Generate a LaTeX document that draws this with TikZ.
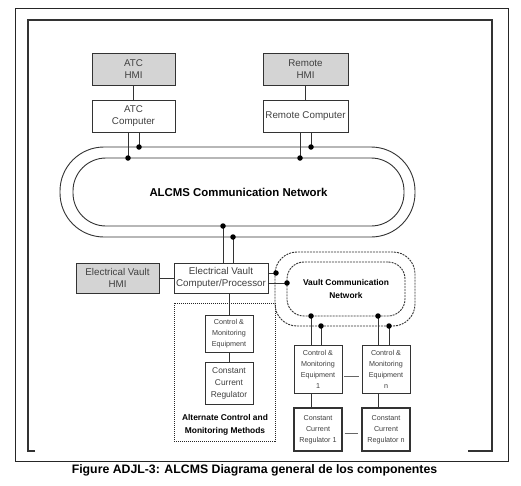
\documentclass[tikz,border=0pt]{standalone}
\usepackage{fontspec}
\setmainfont{Liberation Sans}
\begin{document}
\begin{tikzpicture}[x=1pt,y=-1pt,
  box/.style={draw=black!80,line width=0.9pt,inner sep=0pt,align=center,text=black!75},
  hmi/.style={box,fill=black!17},
  wire/.style={draw=black!80,line width=0.8pt},
  dot/.style={circle,fill=black,inner sep=0pt,minimum size=5.5pt},
  fA/.style={font=\fontsize{9.8}{12.5}\selectfont},
  fS/.style={font=\fontsize{7.2}{11}\selectfont},
  fM/.style={font=\fontsize{8.4}{12}\selectfont},
  fB/.style={font=\fontsize{8.4}{13.5}\selectfont\bfseries,text=black}]
\useasboundingbox (0,0) rectangle (521,485);
\fill[white] (0,0) rectangle (521,485);
% frames
\draw[black!85,line width=1pt] (15,8) rectangle (508,461.5);
\draw[black!80,line width=1.2pt] (35,451) -- (28,451) -- (28,20) -- (492,20) -- (492,451) -- (468,451);
% top boxes
\node[hmi,fA,minimum width=83pt,minimum height=32pt] (atchmi) at (133.5,69) {ATC\\HMI};
\node[box,fA,minimum width=83pt,minimum height=32pt] (atcc) at (133.5,116) {ATC\\Computer};
\node[hmi,fA,minimum width=85pt,minimum height=32pt] (remhmi) at (305.5,69) {Remote\\HMI};
\node[box,fA,minimum width=85pt,minimum height=32pt] (remc) at (305.5,116) {Remote Computer};
\draw[wire] (atchmi) -- (atcc);
\draw[wire] (remhmi) -- (remc);
% ALCMS network
\node[draw=black!80,line width=0.9pt,rounded corners=44pt,minimum width=355pt,minimum height=90pt] (netout) at (237.5,192) {};
\node[draw=black!80,line width=0.9pt,rounded corners=33pt,minimum width=331pt,minimum height=68pt,font=\fontsize{11.4}{13}\selectfont\bfseries] (netin) at (238.5,192) {ALCMS Communication Network};
\coordinate (a1) at (128,158);
\coordinate (a2) at (139,147);
\coordinate (r1) at (300,158);
\coordinate (r2) at (311,147);
\coordinate (e1) at (223,226);
\coordinate (e2) at (233,237);
\draw[wire] (atcc.south -| a1) -- (a1);
\draw[wire] (atcc.south -| a2) -- (a2);
\draw[wire] (remc.south -| r1) -- (r1);
\draw[wire] (remc.south -| r2) -- (r2);
% electrical vault
\node[hmi,fA,minimum width=83pt,minimum height=30pt] (evhmi) at (117.5,278) {Electrical Vault\\HMI};
\node[box,fA,minimum width=94pt,minimum height=30pt] (evc) at (221,278) {Electrical Vault\\Computer/Processor};
\draw[wire] (evhmi) -- (evc);
\draw[wire] (e1) -- (e1 |- evc.north);
\draw[wire] (e2) -- (e2 |- evc.north);
% alternate
\node[draw=black!85,line width=1pt,densely dotted,minimum width=101pt,minimum height=138pt] (alt) at (224.5,372) {};
\node[fB,align=center] (altlbl) at (225,425) {Alternate Control and\\Monitoring Methods};
\node[box,fS,minimum width=48pt,minimum height=37pt] (altcme) at (229,333.5) {Control \&\\Monitoring\\Equipment};
\node[box,fM,minimum width=48pt,minimum height=42pt] (altccr) at (229,383) {Constant\\Current\\Regulator};
\draw[wire] (altcme.north) -- (altcme.north |- evc.south);
\draw[wire] (altcme) -- (altccr);
% vault network
\node[draw=black!80,line width=0.9pt,dashed,dash pattern=on 2pt off 1pt,rounded corners=22pt,minimum width=140pt,minimum height=74pt] (vout) at (345,289) {};
\node[draw=black!80,line width=0.9pt,dashed,dash pattern=on 2pt off 1pt,rounded corners=17pt,minimum width=118pt,minimum height=54pt,font=\fontsize{8.4}{13}\selectfont\bfseries,align=center] (vin) at (346,289) {Vault Communication\\Network};
\coordinate (v1) at (276,273);
\coordinate (v2) at (287,283);
\draw[wire] (evc.east |- v1) -- (v1);
\draw[wire] (evc.east |- v2) -- (v2);
\coordinate (b1) at (311,316);
\coordinate (b2) at (321,326);
\coordinate (b3) at (378,316);
\coordinate (b4) at (389,326);
% field equipment
\node[box,fS,minimum width=48pt,minimum height=48pt] (cme1) at (318,369) {Control \&\\Monitoring\\Equipment\\1};
\node[box,fS,minimum width=48pt,minimum height=48pt] (cmen) at (386,369) {Control \&\\Monitoring\\Equipment\\n};
\node[box,fS,line width=1.1pt,minimum width=48pt,minimum height=43pt] (ccr1) at (318,429.5) {Constant\\Current\\Regulator 1};
\node[box,fS,line width=1.1pt,minimum width=48pt,minimum height=43pt] (ccrn) at (386,429.5) {Constant\\Current\\Regulator n};
\draw[wire] (b1) -- (b1 |- cme1.north);
\draw[wire] (b2) -- (b2 |- cme1.north);
\draw[wire] (b3) -- (b3 |- cmen.north);
\draw[wire] (b4) -- (b4 |- cmen.north);
\draw[wire] (cme1.south -| b1) -- (b1 |- ccr1.north);
\draw[wire] (cmen.south -| b3) -- (b3 |- ccrn.north);
\draw[black!60,line width=0.7pt] ([xshift=2pt,yshift=-7pt]cme1.east) -- ([xshift=-3pt,yshift=-7pt]cmen.west);
\draw[black!60,line width=0.7pt] ([xshift=2pt,yshift=-3.5pt]ccr1.east) -- ([xshift=-3pt,yshift=-3.5pt]ccrn.west);
% dots
\foreach \p in {a1,a2,r1,r2,e1,e2,v1,v2,b1,b2,b3,b4} \node[dot] at (\p) {};
% caption
\node[font=\fontsize{12.3}{14}\selectfont\bfseries] (cap) at (254.5,470) {Figure ADJL-3: ALCMS Diagrama general de los componentes};
\end{tikzpicture}
\end{document}
